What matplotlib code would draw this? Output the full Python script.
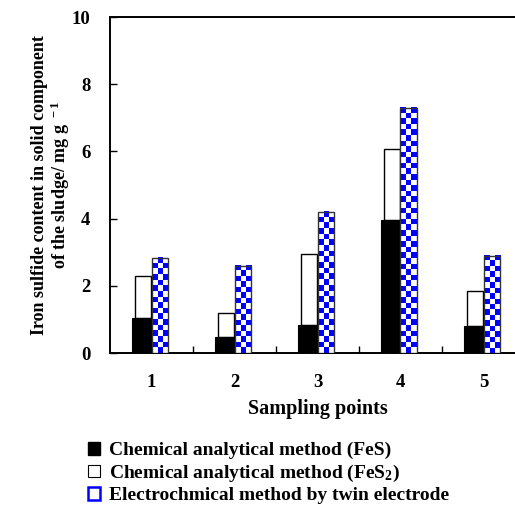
import numpy as np
import matplotlib
matplotlib.use('Agg')
import matplotlib.pyplot as plt
from matplotlib.colors import ListedColormap
from matplotlib.patches import Rectangle

plt.rcParams['font.family'] = ['Liberation Serif', 'DejaVu Serif']
plt.rcParams['font.weight'] = 'bold'
plt.rcParams['mathtext.fontset'] = 'custom'
plt.rcParams['mathtext.rm'] = 'Liberation Serif:bold'
plt.rcParams['mathtext.default'] = 'rm'

# Daten
points = [1, 2, 3, 4, 5]
fes = [1.03, 0.48, 0.82, 3.95, 0.79]
fes2 = [1.25, 0.72, 2.14, 2.13, 1.06]
electro = [2.83, 2.60, 4.20, 7.30, 2.89]
yticks = [0, 2, 4, 6, 8, 10]

labels = ['Chemical analytical method (FeS)',
          'Chemical analytical method (FeS$_2$)',
          'Electrochmical method by twin electrode']

fig = plt.figure(figsize=(5.15, 5.07), dpi=100)
ax = fig.add_axes([110 / 515, 154 / 507, 415 / 515, 336 / 507])

x = np.array(points, dtype=float)
w = 0.2

# weisser Balken (FeS2) hinter dem schwarzen (FeS)
ax.bar(x - w / 2 - 0.005, fes2, width=w - 0.01, bottom=fes, color='white',
       edgecolor='black', linewidth=1.0, zorder=2)
ax.bar(x - w / 2 - 0.015, fes, width=w + 0.03, color='black',
       edgecolor='black', linewidth=0.8, zorder=3)

# Schachbrett-Balken
cmap = ListedColormap(['white', '#0000ff'])
cell = 0.165
bars = ax.bar(x + w / 2, electro, width=w, color='none', edgecolor='#333333',
              linewidth=1.0, zorder=5)
for b in bars:
    rows = int(round(b.get_height() / cell))
    grid = (np.add.outer(np.arange(rows), np.arange(3)) % 2)[::-1]
    ax.imshow(grid, cmap=cmap, extent=(b.get_x(), b.get_x() + b.get_width(),
                                       0, b.get_height()),
              aspect='auto', interpolation='nearest', zorder=4)

ax.set_xlim(0.5, 5.5)
ax.set_ylim(0, 10)
ax.set_yticks(yticks)
ax.set_xticks(points)
ax.set_xticks([1.5, 2.5, 3.5, 4.5], minor=True)
ax.tick_params(axis='x', which='major', length=0, pad=15, labelsize=13.5)
ax.tick_params(axis='x', which='minor', direction='in', length=5, width=1)
ax.tick_params(axis='y', direction='in', length=5, width=1, pad=14, labelsize=13.5)
ax.spines['right'].set_visible(False)
for s in ['left', 'bottom', 'top']:
    ax.spines[s].set_linewidth(1.4)

ax.set_xlabel('Sampling points', fontsize=14.5, fontweight='bold', labelpad=6)
ax.set_ylabel('Iron sulfide content in solid component\nof the sludge/ mg g$^{\\ -1}$',
              fontsize=13, fontweight='bold', labelpad=0, linespacing=1.05)

handles = [Rectangle((0, 0), 1, 1, facecolor='black', edgecolor='black'),
           Rectangle((0, 0), 1, 1, facecolor='white', edgecolor='black', linewidth=0.8),
           Rectangle((0, 0), 1, 1, facecolor='white', edgecolor='blue', linewidth=1.8)]
fig.legend(handles, labels, loc='upper left', bbox_to_anchor=(88 / 515, 1 - 442 / 507),
           frameon=False, handlelength=0.6, handleheight=0.6,
           handletextpad=0.5, labelspacing=0.18, borderaxespad=0, borderpad=0,
           prop={'weight': 'bold', 'size': 14})

fig.savefig('out.png', dpi=100)
